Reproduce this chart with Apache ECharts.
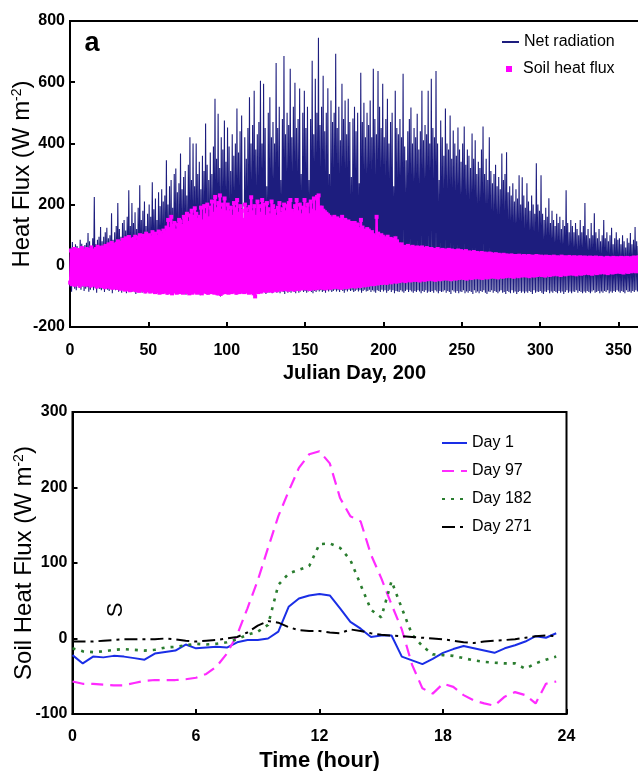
<!DOCTYPE html>
<html>
<head>
<meta charset="utf-8">
<script src="https://cdn.jsdelivr.net/npm/echarts@6.0.0/dist/echarts.min.js"></script>
<style>
  html, body { margin: 0; padding: 0; background: #fff; }
  #chart { width: 638px; height: 771px; }
</style>
</head>
<body>
<div id="chart"></div>
<script>
// ---- Panel a: daily extremes, Julian day 0..364 ----
// Net radiation, daytime peak of each day (W m-2)
const netPeak = [
  60, 78, 55, 70, 65, 50, 85, 72, 60, 68,
  75, 107, 80, 65, 90, 225, 70, 85, 95, 127,
  80, 95, 110, 124, 90, 100, 172, 85, 110, 130,
  205, 120, 95, 140, 150, 115, 160, 247, 130, 205,
  140, 175, 120, 190, 263, 150, 180, 210, 130, 170,
  200, 160, 273, 185, 220, 150, 240, 195, 250, 210,
  230, 345, 200, 260, 280, 190, 300, 318, 240, 270,
  367, 250, 290, 310, 230, 330, 420, 280, 400, 260,
  400, 300, 340, 250, 360, 310, 465, 330, 280, 370,
  300, 390, 546, 350, 497, 320, 420, 380, 475, 340,
  452, 390, 310, 430, 360, 400, 514, 370, 440, 491,
  110, 420, 350, 450, 551, 400, 460, 572, 380, 430,
  470, 605, 400, 595, 450, 260, 500, 551, 420, 470,
  400, 663, 450, 520, 280, 480, 686, 430, 500, 460,
  644, 420, 520, 598, 450, 480, 579, 300, 500, 572,
  450, 520, 280, 480, 670, 430, 611, 500, 745, 460,
  520, 621, 440, 500, 580, 300, 540, 470, 500, 693,
  450, 520, 410, 595, 480, 540, 430, 546, 470, 290,
  481, 520, 440, 500, 270, 631, 470, 533, 420, 500,
  460, 540, 420, 644, 480, 430, 637, 520, 450, 595,
  420, 480, 546, 400, 470, 500, 260, 572, 450, 430,
  480, 420, 628, 390, 345, 440, 480, 517, 400, 450,
  420, 497, 380, 440, 572, 410, 460, 430, 572, 400,
  611, 450, 420, 637, 400, 280, 475, 420, 360, 514,
  400, 380, 491, 350, 442, 400, 360, 452, 380, 340,
  400, 455, 330, 380, 360, 320, 432, 350, 410, 300,
  340, 320, 380, 455, 300, 350, 280, 420, 310, 270,
  300, 330, 260, 290, 250, 367, 280, 300, 371, 240,
  260, 230, 270, 210, 250, 220, 296, 200, 289, 230,
  190, 270, 210, 180, 230, 200, 170, 335, 200, 180,
  296, 170, 150, 190, 160, 221, 140, 180, 150, 130,
  170, 140, 160, 120, 150, 130, 247, 140, 110, 150,
  130, 110, 140, 120, 100, 150, 110, 130, 205, 100,
  120, 90, 140, 100, 172, 110, 90, 120, 80, 100,
  150, 90, 110, 80, 100, 124, 70, 90, 110, 85,
  90, 70, 100, 80, 60, 90, 75, 107, 70, 85,
  127, 80, 65, 90, 70
];
// Net radiation, night-time low of each day (W m-2)
const netLow = [
  -70, -85, -60, -75, -80, -65, -72, -78, -68, -82,
  -75, -70, -85, -78, -65, -80, -72, -88, -70, -76,
  -80, -74, -86, -70, -78, -82, -68, -90, -75, -80,
  -78, -85, -72, -88, -80, -76, -90, -82, -74, -86,
  -84, -78, -92, -80, -86, -74, -88, -82, -90, -78,
  -82, -90, -76, -86, -80, -92, -84, -78, -88, -80,
  -86, -80, -94, -82, -88, -78, -90, -84, -80, -92,
  -84, -90, -80, -88, -95, -82, -86, -92, -80, -88,
  -90, -84, -88, -96, -82, -90, -86, -80, -94, -88,
  -85, -92, -88, -80, -96, -90, -100, -86, -92, -84,
  -90, -84, -88, -92, -80, -86, -94, -82, -88, -90,
  -84, -90, -86, -80, -92, -88, -84, -90, -96, -86,
  -88, -82, -90, -86, -80, -92, -84, -88, -82, -90,
  -86, -80, -88, -84, -90, -82, -86, -92, -80, -88,
  -84, -88, -80, -86, -90, -82, -88, -84, -80, -86,
  -82, -88, -84, -80, -86, -90, -82, -86, -80, -84,
  -80, -86, -82, -88, -78, -84, -80, -86, -82, -78,
  -84, -80, -86, -78, -82, -88, -80, -84, -78, -82,
  -80, -86, -82, -78, -84, -80, -88, -82, -78, -84,
  -82, -78, -86, -80, -84, -88, -80, -82, -86, -78,
  -84, -80, -88, -82, -78, -86, -80, -90, -82, -84,
  -86, -80, -84, -88, -82, -78, -86, -80, -84, -88,
  -82, -86, -80, -84, -90, -82, -86, -80, -88, -84,
  -86, -82, -88, -80, -84, -90, -82, -86, -84, -80,
  -88, -82, -86, -92, -80, -84, -88, -82, -90, -84,
  -86, -80, -90, -84, -88, -82, -86, -92, -80, -88,
  -84, -90, -82, -86, -80, -88, -92, -84, -86, -80,
  -88, -82, -86, -90, -84, -80, -88, -86, -92, -82,
  -86, -90, -80, -88, -84, -92, -86, -82, -88, -84,
  -90, -84, -88, -82, -86, -92, -80, -88, -84, -86,
  -82, -88, -92, -84, -86, -80, -90, -84, -88, -82,
  -86, -90, -82, -88, -84, -92, -86, -80, -88, -84,
  -90, -84, -86, -80, -88, -82, -86, -90, -84, -88,
  -82, -86, -90, -84, -80, -88, -86, -82, -90, -84,
  -88, -82, -86, -80, -90, -84, -88, -82, -86, -80,
  -84, -88, -82, -86, -90, -80, -86, -84, -88, -82,
  -86, -80, -84, -88, -82
];
// Soil heat flux, daily maximum (W m-2)
const soilHigh = [
  50, 45, 55, 48, 52, 40, 50, 58, 45, 50,
  55, 48, 52, 60, 50, 45, 55, 62, 50, 58,
  60, 55, 65, 58, 70, 62, 75, 68, 60, 72,
  80, 70, 75, 85, 78, 90, 82, 94, 85, 80,
  88, 95, 80, 92, 100, 85, 98, 90, 105, 95,
  100, 92, 110, 98, 105, 95, 112, 107, 100, 115,
  110, 125, 150, 120, 160, 130, 140, 115, 135, 150,
  145, 130, 160, 155, 170, 140, 165, 180, 160, 188,
  170, 150, 160, 190, 145, 195, 165, 200, 155, 190,
  210, 170, 225, 185, 205, 230, 180, 200, 220, 175,
  200, 175, 190, 160, 205, 185, 215, 170, 195, 180,
  150, 200, 185, 170, 192, 224, 175, 195, 160, 210,
  195, 170, 215, 200, 160, 205, 185, 165, 210, 195,
  180, 160, 190, 205, 170, 185, 200, 175, 195, 205,
  215, 180, 170, 195, 215, 175, 200, 165, 190, 215,
  185, 200, 165, 210, 180, 220, 175, 225, 230, 190,
  190, 180, 175, 170, 165, 160, 155, 150, 160, 150,
  155, 145, 150, 160, 145, 150, 140, 145, 135, 140,
  130, 140, 125, 135, 120, 150, 125, 115, 110, 120,
  115, 105, 110, 100, 95, 160, 105, 90, 100, 95,
  90, 85, 95, 80, 88, 75, 85, 90, 80, 70,
  65, 70, 60, 62, 58, 65, 55, 60, 62, 58,
  55, 60, 58, 52, 60, 55, 50, 58, 55, 52,
  55, 50, 52, 48, 55, 50, 45, 52, 48, 50,
  48, 52, 45, 50, 46, 48, 42, 50, 45, 48,
  45, 42, 48, 40, 44, 42, 38, 45, 40, 42,
  40, 38, 42, 36, 40, 38, 35, 40, 38, 36,
  35, 38, 33, 36, 34, 32, 36, 30, 34, 32,
  30, 34, 32, 28, 32, 30, 33, 28, 30, 32,
  30, 28, 32, 30, 27, 30, 28, 32, 30, 28,
  30, 28, 26, 30, 27, 29, 25, 28, 30, 26,
  28, 25, 27, 30, 26, 28, 24, 27, 29, 25,
  26, 28, 24, 27, 25, 28, 23, 26, 27, 24,
  25, 27, 22, 26, 24, 27, 22, 25, 26, 23,
  24, 22, 26, 25, 21, 24, 26, 22, 25, 23,
  24, 26, 22, 25, 23, 26, 24, 22, 25, 27,
  26, 24, 28, 25, 27
];
// Soil heat flux, daily minimum (W m-2)
const soilLow = [
  -55, -60, -50, -62, -58, -52, -65, -55, -60, -58,
  -62, -56, -60, -65, -58, -62, -55, -68, -60, -64,
  -66, -60, -70, -62, -68, -64, -70, -72, -66, -70,
  -72, -68, -75, -70, -74, -78, -72, -76, -80, -74,
  -78, -72, -80, -76, -82, -78, -74, -80, -84, -78,
  -80, -84, -78, -82, -86, -80, -84, -88, -82, -86,
  -84, -80, -88, -82, -86, -90, -84, -80, -88, -84,
  -86, -82, -88, -84, -80, -86, -90, -84, -88, -82,
  -84, -88, -82, -86, -90, -84, -80, -86, -88, -84,
  -86, -82, -88, -84, -90, -86, -92, -88, -84, -86,
  -84, -88, -82, -86, -80, -84, -88, -82, -86, -84,
  -82, -86, -84, -80, -88, -84, -86, -90, -100, -84,
  -86, -82, -84, -80, -78, -82, -76, -80, -78, -82,
  -78, -74, -80, -76, -72, -78, -74, -76, -72, -78,
  -74, -76, -72, -78, -74, -70, -76, -72, -74, -70,
  -72, -74, -70, -76, -72, -68, -74, -70, -72, -68,
  -70, -72, -68, -74, -70, -66, -72, -68, -70, -66,
  -68, -70, -66, -72, -68, -64, -70, -66, -68, -64,
  -66, -62, -68, -64, -60, -66, -62, -58, -64, -60,
  -62, -58, -60, -56, -60, -54, -58, -56, -52, -56,
  -54, -50, -56, -52, -48, -54, -50, -46, -52, -48,
  -50, -46, -48, -44, -50, -46, -42, -48, -44, -46,
  -44, -46, -42, -48, -44, -40, -46, -42, -44, -40,
  -42, -44, -40, -46, -42, -38, -44, -40, -42, -38,
  -40, -42, -38, -44, -40, -36, -42, -38, -40, -36,
  -38, -40, -36, -42, -38, -34, -40, -36, -38, -34,
  -36, -38, -34, -40, -36, -32, -38, -34, -36, -32,
  -34, -36, -32, -38, -34, -30, -36, -32, -34, -30,
  -32, -34, -30, -36, -32, -28, -34, -30, -32, -28,
  -30, -32, -28, -34, -30, -26, -32, -28, -30, -26,
  -28, -30, -26, -32, -28, -24, -30, -26, -28, -24,
  -26, -28, -24, -30, -26, -22, -28, -24, -26, -22,
  -24, -26, -22, -28, -24, -20, -26, -22, -24, -20,
  -22, -24, -20, -26, -22, -18, -24, -20, -22, -18,
  -20, -22, -18, -24, -20, -16, -22, -18, -20, -16,
  -18, -20, -16, -22, -18, -15, -20, -16, -18, -15,
  -16, -18, -15, -20, -16
];

// ---- Panel b: diurnal soil heat flux for four days ----
const hours = [
  0, 0.5, 1, 1.5, 2, 2.5, 3, 3.5, 4, 4.5, 5, 5.5,
  6, 6.5, 7, 7.5, 8, 8.5, 9, 9.5, 10, 10.5, 11, 11.5,
  12, 12.5, 13, 13.5, 14, 14.5, 15, 15.5, 16, 16.5, 17, 17.5,
  18, 18.5, 19, 19.5, 20, 20.5, 21, 21.5, 22, 22.5, 23, 23.5
];
const day1 = [
  -22, -33, -24, -25, -23, -24, -26, -28, -20, -18, -16, -8,
  -13, -12, -11, -12, -5, -2, -2, 0, 9, 42, 53, 57,
  59, 57, 40, 22, 13, 2, 4, 4, -24, -29, -34, -27,
  -19, -14, -10, -13, -16, -19, -13, -9, -4, 3, 1, 7
];
const day97 = [
  -57, -60, -60, -61, -62, -62, -59, -56, -55, -55, -55, -54,
  -52, -47, -37, -20, 5, 40, 77, 120, 162, 195, 226, 244,
  248, 232, 186, 162, 155, 111, 80, 45, 12, -35, -66, -73,
  -60, -64, -75, -82, -86, -89, -77, -71, -75, -86, -60, -57
];
const day182 = [
  -13, -17, -18, -17, -15, -14, -15, -16, -15, -12, -11, -9,
  -7, -8, -7, -5, -1, 5, 9, 18, 71, 86, 91, 96,
  125, 126, 120, 104, 71, 38, 28, 76, 40, 5, -10, -21,
  -22, -23, -26, -29, -31, -32, -33, -33, -40, -33, -28, -24
];
const day271 = [
  -4, -4, -4, -3, -2, -1, -1, -1, -1, 0, -1, -3,
  -4, -3, -2, 0, 2, 8, 17, 23, 21, 15, 11, 10,
  10, 8, 7, 12, 10, 7, 5, 4, 3, 2, 1, 0,
  -1, -3, -5, -6, -4, -3, -2, -1, 1, 3, 4, 3
];

// Night low at the start of each day, daytime peak at midday
const netPts = [];
netPeak.forEach((p, d) => { netPts.push([d, netLow[d]]); netPts.push([d + 0.5, p]); });
const soilPts = [];
soilHigh.forEach((h, d) => { soilPts.push([d + 0.1, soilLow[d]]); soilPts.push([d + 0.6, h]); });
const pair = arr => hours.map((h, i) => [h, arr[i]]);

const FONT = '"Liberation Sans", Arial, Helvetica, sans-serif';
const black = '#000';

function axisNameRich(size) {
  return {
    fontSize: size, color: black, fontFamily: FONT,
    rich: {
      t: { fontSize: size, color: black, fontFamily: FONT },
      s: { fontSize: 14, color: black, fontFamily: FONT, verticalAlign: 'top' }
    }
  };
}

const tickLabel = { color: black, fontSize: 16, fontWeight: 'bold', fontFamily: FONT };
const tickStyle = { inside: true, length: 5, lineStyle: { color: black, width: 2 } };
const frameLine = { show: true, onZero: false, lineStyle: { color: black, width: 2 } };

const chart = echarts.init(document.getElementById('chart'), null, { renderer: 'canvas' });

chart.setOption({
  animation: false,
  backgroundColor: '#fff',
  textStyle: { fontFamily: FONT },
  grid: [
    { left: 70, top: 21, width: 569, height: 306, show: true, borderColor: black, borderWidth: 2,
      backgroundColor: 'transparent', containLabel: false, outerBoundsMode: 'none' },
    { left: 72.5, top: 412, width: 494, height: 302, show: true, borderColor: black, borderWidth: 2,
      backgroundColor: 'transparent', containLabel: false, outerBoundsMode: 'none' }
  ],
  xAxis: [
    {
      gridIndex: 0, type: 'value', min: 0, max: 363, interval: 50,
      axisLine: frameLine, axisTick: tickStyle, splitLine: { show: false },
      axisLabel: Object.assign({ margin: 16, showMaxLabel: false, formatter: v => (v % 50 === 0 ? String(v) : '') }, tickLabel),
      name: 'Julian Day, 200', nameLocation: 'middle', nameGap: 36, nameMoveOverlap: false,
      nameTextStyle: { fontSize: 20, fontWeight: 'bold', color: black, fontFamily: FONT }
    },
    {
      gridIndex: 1, type: 'value', min: 0, max: 24, interval: 6,
      axisLine: frameLine, axisTick: tickStyle, splitLine: { show: false },
      axisLabel: Object.assign({ margin: 15 }, tickLabel),
      name: 'Time (hour)', nameLocation: 'middle', nameGap: 36, nameMoveOverlap: false,
      nameTextStyle: { fontSize: 22, fontWeight: 'bold', color: black, fontFamily: FONT }
    }
  ],
  yAxis: [
    {
      gridIndex: 0, type: 'value', min: -200, max: 800, interval: 200,
      axisLine: frameLine, axisTick: tickStyle, splitLine: { show: false },
      axisLabel: Object.assign({ margin: 5 }, tickLabel),
      name: '{t|Heat Flux (W m}{s|-2}{t|)}', nameLocation: 'middle', nameRotate: 90, nameGap: 36,
      nameMoveOverlap: false,
      nameTextStyle: axisNameRich(24)
    },
    {
      gridIndex: 1, type: 'value', min: -100, max: 300, interval: 100,
      axisLine: frameLine, axisTick: tickStyle, splitLine: { show: false },
      axisLabel: Object.assign({ margin: 5 }, tickLabel),
      name: '{t|Soil Heat Flux (W m}{s|-2}{t|)}', nameLocation: 'middle', nameRotate: 90, nameGap: 36,
      nameMoveOverlap: false,
      nameTextStyle: axisNameRich(24)
    }
  ],
  legend: [
    {
      data: ['Net radiation'], left: 496, top: 29, itemWidth: 17, itemHeight: 10,
      itemStyle: { opacity: 0 },
      textStyle: { fontSize: 16, color: black, fontFamily: FONT }, selectedMode: false
    },
    {
      data: [{ name: 'Soil heat flux', icon: 'rect' }], left: 501, top: 56, itemWidth: 6, itemHeight: 6,
      textStyle: { fontSize: 16, color: black, fontFamily: FONT, padding: [0, 0, 0, 6] }, selectedMode: false
    },
    {
      data: ['Day 1', 'Day 97', 'Day 182', 'Day 271'], orient: 'vertical', left: 436, top: 430,
      itemWidth: 25, itemHeight: 14, itemGap: 12,
      itemStyle: { opacity: 0 },
      textStyle: { fontSize: 16, color: black, fontFamily: FONT }, selectedMode: false
    }
  ],
  graphic: [
    { type: 'text', x: 92, y: 44, style: { text: 'a', font: 'bold 27px ' + FONT, fill: black, align: 'center', verticalAlign: 'middle' } },
    { type: 'text', x: 116, y: 610, rotation: Math.PI / 2, style: { text: 'S', font: '22px ' + FONT, fill: black, align: 'center', verticalAlign: 'middle' } }
  ],
  series: [
    {
      name: 'Net radiation', type: 'line', xAxisIndex: 0, yAxisIndex: 0, data: netPts,
      symbol: 'none', silent: true, z: 2,
      lineStyle: { color: '#1d1d7e', width: 1.1 }, itemStyle: { color: '#1d1d7e' }
    },
    {
      name: 'Soil heat flux', type: 'line', xAxisIndex: 0, yAxisIndex: 0, data: soilPts,
      symbol: 'rect', symbolSize: 4, showAllSymbol: true, silent: true, z: 3,
      lineStyle: { color: '#ff00ff', width: 2.5 }, itemStyle: { color: '#ff00ff' }
    },
    {
      name: 'Day 1', type: 'line', xAxisIndex: 1, yAxisIndex: 1, data: pair(day1),
      symbol: 'none', silent: true, lineStyle: { color: '#1a2ee6', width: 2 }, itemStyle: { color: '#1a2ee6' }
    },
    {
      name: 'Day 97', type: 'line', xAxisIndex: 1, yAxisIndex: 1, data: pair(day97),
      symbol: 'none', silent: true, lineStyle: { color: '#ff2bff', width: 2.2, type: [12, 7] }, itemStyle: { color: '#ff2bff' }
    },
    {
      name: 'Day 182', type: 'line', xAxisIndex: 1, yAxisIndex: 1, data: pair(day182),
      symbol: 'none', silent: true, lineStyle: { color: '#2a7d2f', width: 2.6, type: [3, 6] }, itemStyle: { color: '#2a7d2f' }
    },
    {
      name: 'Day 271', type: 'line', xAxisIndex: 1, yAxisIndex: 1, data: pair(day271),
      symbol: 'none', silent: true, lineStyle: { color: '#000', width: 2, type: [13, 5, 3, 5] }, itemStyle: { color: '#000' }
    }
  ]
});
</script>
</body>
</html>
